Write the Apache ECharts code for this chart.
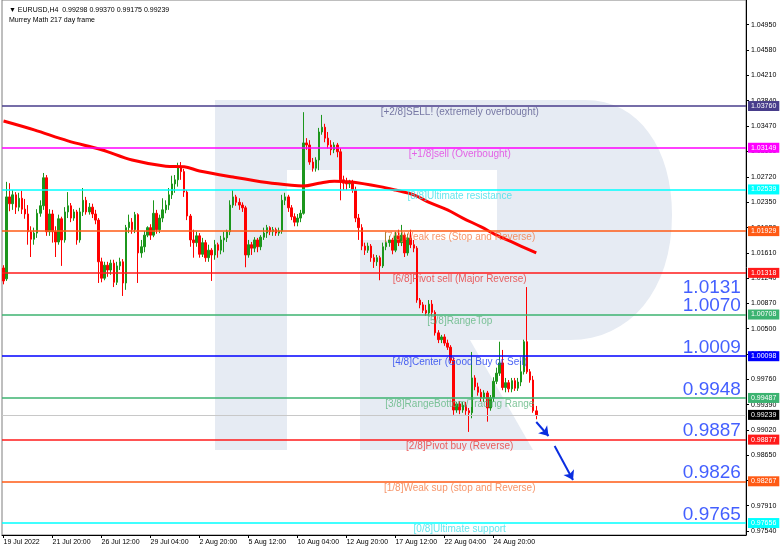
<!DOCTYPE html>
<html>
<head>
<meta charset="utf-8">
<script src="https://cdn.jsdelivr.net/npm/echarts@6.0.0/dist/echarts.min.js"></script>
<style>
html,body{margin:0;padding:0;background:#fff;}
#chart{width:782px;height:550px;}
</style>
</head>
<body>
<div id="chart"></div>
<script>
// ---- EURUSD H4 data ----
const symbolName = 'EURUSD,H4';
const indicatorName = 'Murrey Math 217 day frame';

const tradingDays = ['19 Jul','20 Jul','21 Jul','22 Jul','25 Jul','26 Jul','27 Jul','28 Jul','29 Jul',
  '1 Aug','2 Aug','3 Aug','4 Aug','5 Aug','8 Aug','9 Aug','10 Aug','11 Aug','12 Aug',
  '15 Aug','16 Aug','17 Aug','18 Aug','19 Aug','22 Aug','23 Aug','24 Aug','25 Aug','26 Aug','29 Aug'];
const barHours = ['00:00','04:00','08:00','12:00','16:00','20:00'];
const firstBar = '19 Jul 04:00';

// [open, close, low, high]
const ohlc = [
[1.0139,1.0120,1.0115,1.0143],[1.0123,1.0243,1.0120,1.0265],[1.0243,1.0233,1.0222,1.0263],[1.0233,1.0246,1.0224,1.0253],
[1.0246,1.0228,1.0218,1.0250],[1.0228,1.0241,1.0222,1.0249],[1.0241,1.0225,1.0218,1.0252],[1.0225,1.0218,1.0211,1.0240],
[1.0218,1.0192,1.0173,1.0231],[1.0192,1.0181,1.0155,1.0200],[1.0181,1.0190,1.0173,1.0198],[1.0190,1.0219,1.0183,1.0225],
[1.0219,1.0230,1.0214,1.0238],[1.0230,1.0271,1.0224,1.0278],[1.0271,1.0192,1.0186,1.0275],[1.0192,1.0218,1.0186,1.0225],
[1.0218,1.0192,1.0176,1.0224],[1.0192,1.0177,1.0155,1.0200],[1.0177,1.0211,1.0173,1.0217],[1.0211,1.0180,1.0142,1.0214],
[1.0180,1.0221,1.0176,1.0228],[1.0221,1.0230,1.0212,1.0250],[1.0230,1.0212,1.0206,1.0234],[1.0212,1.0221,1.0208,1.0225],
[1.0221,1.0180,1.0173,1.0224],[1.0180,1.0221,1.0176,1.0227],[1.0221,1.0238,1.0215,1.0256],[1.0238,1.0221,1.0217,1.0243],
[1.0221,1.0228,1.0217,1.0234],[1.0228,1.0218,1.0212,1.0233],[1.0218,1.0209,1.0203,1.0224],[1.0209,1.0148,1.0117,1.0212],
[1.0148,1.0124,1.0118,1.0154],[1.0124,1.0143,1.0121,1.0148],[1.0143,1.0136,1.0126,1.0148],[1.0136,1.0146,1.0129,1.0151],
[1.0146,1.0118,1.0111,1.0151],[1.0118,1.0142,1.0114,1.0148],[1.0142,1.0148,1.0136,1.0154],[1.0148,1.0117,1.0098,1.0152],
[1.0117,1.0198,1.0107,1.0202],[1.0198,1.0206,1.0190,1.0217],[1.0206,1.0195,1.0189,1.0212],[1.0195,1.0217,1.0190,1.0221],
[1.0217,1.0161,1.0117,1.0219],[1.0161,1.0170,1.0154,1.0180],[1.0170,1.0187,1.0162,1.0193],[1.0187,1.0198,1.0184,1.0200],
[1.0198,1.0187,1.0180,1.0203],[1.0187,1.0219,1.0184,1.0238],[1.0219,1.0195,1.0189,1.0224],[1.0195,1.0212,1.0190,1.0217],
[1.0212,1.0224,1.0206,1.0241],[1.0224,1.0231,1.0219,1.0238],[1.0231,1.0246,1.0224,1.0256],[1.0246,1.0262,1.0240,1.0274],
[1.0262,1.0268,1.0249,1.0275],[1.0268,1.0287,1.0258,1.0293],[1.0287,1.0280,1.0268,1.0294],[1.0280,1.0250,1.0243,1.0284],
[1.0250,1.0215,1.0209,1.0253],[1.0215,1.0180,1.0170,1.0218],[1.0180,1.0176,1.0154,1.0195],[1.0176,1.0186,1.0170,1.0192],
[1.0186,1.0159,1.0154,1.0190],[1.0159,1.0176,1.0155,1.0183],[1.0176,1.0154,1.0148,1.0180],[1.0154,1.0165,1.0148,1.0173],
[1.0165,1.0158,1.0120,1.0168],[1.0158,1.0173,1.0151,1.0180],[1.0173,1.0165,1.0154,1.0176],[1.0165,1.0180,1.0159,1.0186],
[1.0180,1.0183,1.0162,1.0192],[1.0183,1.0192,1.0177,1.0195],[1.0192,1.0231,1.0187,1.0238],[1.0231,1.0243,1.0227,1.0253],
[1.0243,1.0235,1.0230,1.0246],[1.0235,1.0231,1.0224,1.0241],[1.0231,1.0227,1.0221,1.0235],[1.0227,1.0158,1.0140,1.0230],
[1.0158,1.0173,1.0154,1.0180],[1.0173,1.0168,1.0158,1.0177],[1.0168,1.0180,1.0162,1.0184],[1.0180,1.0170,1.0162,1.0183],
[1.0170,1.0184,1.0165,1.0187],[1.0184,1.0190,1.0180,1.0198],[1.0190,1.0198,1.0183,1.0202],[1.0198,1.0192,1.0187,1.0200],
[1.0192,1.0195,1.0186,1.0199],[1.0195,1.0190,1.0186,1.0198],[1.0190,1.0193,1.0186,1.0198],[1.0193,1.0238,1.0189,1.0246],
[1.0238,1.0243,1.0231,1.0249],[1.0243,1.0227,1.0221,1.0246],[1.0227,1.0214,1.0209,1.0231],[1.0214,1.0206,1.0200,1.0219],
[1.0206,1.0212,1.0200,1.0218],[1.0212,1.0219,1.0206,1.0224],[1.0219,1.0322,1.0217,1.0367],[1.0322,1.0319,1.0312,1.0329],
[1.0319,1.0294,1.0290,1.0326],[1.0294,1.0285,1.0280,1.0300],[1.0285,1.0297,1.0280,1.0301],[1.0297,1.0338,1.0282,1.0344],
[1.0338,1.0345,1.0334,1.0363],[1.0345,1.0329,1.0323,1.0350],[1.0329,1.0319,1.0314,1.0338],[1.0319,1.0312,1.0304,1.0326],
[1.0312,1.0319,1.0307,1.0323],[1.0319,1.0309,1.0301,1.0322],[1.0309,1.0268,1.0238,1.0314],[1.0268,1.0263,1.0253,1.0274],
[1.0263,1.0262,1.0253,1.0271],[1.0262,1.0263,1.0256,1.0268],[1.0263,1.0253,1.0249,1.0268],[1.0253,1.0212,1.0206,1.0258],
[1.0212,1.0198,1.0180,1.0218],[1.0198,1.0171,1.0165,1.0203],[1.0171,1.0165,1.0158,1.0176],[1.0165,1.0171,1.0161,1.0176],
[1.0171,1.0154,1.0148,1.0174],[1.0154,1.0148,1.0139,1.0159],[1.0148,1.0154,1.0142,1.0158],[1.0154,1.0142,1.0121,1.0157],
[1.0142,1.0170,1.0139,1.0176],[1.0170,1.0176,1.0165,1.0192],[1.0176,1.0180,1.0170,1.0186],[1.0180,1.0165,1.0159,1.0183],
[1.0165,1.0186,1.0162,1.0192],[1.0186,1.0176,1.0171,1.0195],[1.0176,1.0187,1.0171,1.0202],[1.0187,1.0161,1.0155,1.0190],
[1.0161,1.0183,1.0157,1.0189],[1.0183,1.0173,1.0168,1.0195],[1.0173,1.0168,1.0162,1.0180],[1.0168,1.0092,1.0088,1.0171],
[1.0092,1.0085,1.0080,1.0095],[1.0085,1.0077,1.0073,1.0089],[1.0077,1.0073,1.0069,1.0085],[1.0073,1.0086,1.0069,1.0092],
[1.0086,1.0074,1.0069,1.0092],[1.0074,1.0044,1.0040,1.0077],[1.0044,1.0034,1.0029,1.0048],[1.0034,1.0038,1.0029,1.0041],
[1.0038,1.0029,1.0025,1.0042],[1.0029,1.0023,1.0019,1.0034],[1.0023,1.0004,1.0000,1.0026],[1.0004,0.9931,0.9924,1.0008],
[0.9931,0.9940,0.9927,0.9943],[0.9940,0.9931,0.9925,0.9944],[0.9931,0.9938,0.9927,0.9943],[0.9938,0.9930,0.9924,0.9943],
[0.9930,0.9927,0.9899,0.9934],[0.9927,0.9978,0.9919,1.0016],[0.9978,0.9965,0.9960,0.9982],[0.9965,0.9957,0.9952,0.9971],
[0.9957,0.9949,0.9943,0.9962],[0.9949,0.9956,0.9943,0.9960],[0.9956,0.9934,0.9914,0.9959],[0.9934,0.9949,0.9930,0.9953],
[0.9949,0.9973,0.9943,0.9979],[0.9973,0.9985,0.9969,0.9993],[0.9985,1.0000,0.9981,1.0031],[1.0000,0.9964,0.9960,1.0019],
[0.9964,0.9971,0.9957,0.9978],[0.9971,0.9962,0.9957,0.9975],[0.9962,0.9974,0.9957,0.9978],[0.9974,0.9963,0.9959,0.9978],
[0.9963,0.9972,0.9959,0.9978],[0.9972,0.9987,0.9966,1.0003],[0.9987,1.0031,0.9983,1.0034],[1.0031,0.9987,0.9984,1.0111],
[0.9987,0.9975,0.9971,0.9991],[0.9975,0.9930,0.9927,0.9981],[0.99298,0.99239,0.99175,0.99370]
];

// moving average readings: [bar index, value]
const maPoints = [[0,1.0354],[10,1.0341],[21,1.0325],[32,1.0312],[42,1.0297],[53,1.0288],[59,1.0287],[64,1.0281],
  [75,1.0272],[86,1.0264],[94,1.0260],[98,1.0259],[103,1.0263],[108,1.0266],[113,1.0265],[123,1.0258],[128,1.0253],
  [134,1.0246],[139,1.0235],[145,1.0224],[150,1.0212],[156,1.0199],[161,1.0187],[166,1.0177],[174,1.0161]];

// Murrey Math levels, +2/8 down to 0/8
const murreyLevels = [1.03760,1.03149,1.02539,1.01929,1.01318,1.00708,1.00098,0.99487,0.98877,0.98267,0.97656];
const murreyNotes = ['[+2/8]SELL! (extremely overbought)','[+1/8]sell (Overbought)','[8/8]Ultimate resistance',
  '[7/8]Weak res (Stop and Reverse)','[6/8]Pivot sell (Major Reverse)','[5/8]RangeTop','[4/8]Center (Good Buy or Sell)',
  '[3/8]RangeBottom/Trading Range','[2/8]Pivot buy (Reverse)','[1/8]Weak sup (stop and Reverse)','[0/8]Ultimate support'];
const keyLevelTexts = ['1.0131','1.0070','1.0009','0.9948','0.9887','0.9826','0.9765'];

const yTickValues = [1.0495,1.0458,1.0421,1.0384,1.0347,1.0310,1.0272,1.0235,1.0198,1.0161,1.0124,1.0087,1.0050,
  1.0013,0.9976,0.9939,0.9902,0.9865,0.9828,0.9791,0.9754];

// projected move arrows: [[bar, price], [bar, price]]
const arrowSegments = [
  [[174.3, 0.99135], [177.8, 0.98930]],
  [[180.2, 0.98784], [185.7, 0.98286]]
];

// ---- styling ----
const levelLineColors = ['#483d8b','#ff00ff','#00ffff','#ff5a14','#ff1a1a','#3cb371','#0000ff','#3cb371','#ff1a1a','#ff5a14','#00ffff'];
const levelTextColors = ['#5a5a90','#e23ee2','#3ee0e8','#f47a45','#e8393a','#5fb67f','#1e3cf0','#5fb67f','#e8393a','#f47a45','#3ee0e8'];
// big level numbers sit above their line, except the first one which hangs below it
const keyLabelBelow = [true, false, false, false, false, false, false];
const UP = '#1c961c', DOWN = '#ff0000';
const SLOTS = 243;          // bar slots across the plot (includes right-side shift)
const NOTE_BAR = 149;       // bar under which the level notes are centred
const KEY_BAR = 241;        // bar at which the big level numbers end
const MARK_FILL = '#e6ebf3';

// background logo outline (pixel space)
function bezierPts(p0, p1, p2, p3, n) {
  const out = [];
  for (let k = 1; k <= n; k++) {
    const t = k / n, u = 1 - t;
    out.push([
      u*u*u*p0[0] + 3*u*u*t*p1[0] + 3*u*t*t*p2[0] + t*t*t*p3[0],
      u*u*u*p0[1] + 3*u*u*t*p1[1] + 3*u*t*t*p2[1] + t*t*t*p3[1]
    ]);
  }
  return out;
}
const bowl = [[287,100],[585,100]]
  .concat(bezierPts([585,100],[640,100],[672,150],[672,215],16))
  .concat(bezierPts([672,215],[672,290],[630,340],[570,340],16))
  .concat([[360,340],[360,240],[497,240],[497,170],[287,170]]);

// build category labels
const categories = [];
let started = false;
for (const d of tradingDays) {
  for (const h of barHours) {
    const s = d + ' ' + h;
    if (s === firstBar) started = true;
    if (started && categories.length < ohlc.length) categories.push(s);
  }
}
while (categories.length < SLOTS) categories.push('');

const last = ohlc[ohlc.length - 1];
const fmt5 = v => v.toFixed(5);

const chart = echarts.init(document.getElementById('chart'));

const tickFilter = (idx, val) => idx % 16 === 0 && val !== '';

const option = {
  animation: false,
  backgroundColor: '#ffffff',
  textStyle: { fontFamily: '"Liberation Sans", Arial, sans-serif' },
  title: {
    left: 4, top: 2,
    text: '\u25BC ' + symbolName + '  ' + fmt5(last[0]) + ' ' + fmt5(last[3]) + ' ' + fmt5(last[2]) + ' ' + fmt5(last[1]),
    subtext: indicatorName,
    itemGap: 3,
    textStyle: { fontSize: 7, fontWeight: 'normal', color: '#000' },
    subtextStyle: { fontSize: 7, color: '#000' }
  },
  graphic: [
    { type: 'rect', z: -10, silent: true, shape: { x: 215, y: 100, width: 72, height: 350 }, style: { fill: MARK_FILL } },
    { type: 'polygon', z: -10, silent: true, shape: { points: bowl }, style: { fill: MARK_FILL } },
    { type: 'polygon', z: -10, silent: true, shape: { points: [[360,340],[470,340],[533,450],[360,450]] }, style: { fill: MARK_FILL } }
  ],
  grid: { left: 2, right: 36, top: 0, bottom: 15, show: true, borderColor: '#7f7f7f', borderWidth: 1 },
  xAxis: {
    type: 'category', data: categories, boundaryGap: true,
    axisLine: { show: true, lineStyle: { color: '#000', width: 1 } },
    axisTick: { show: true, alignWithLabel: true, interval: tickFilter, length: 3, lineStyle: { color: '#000' } },
    axisLabel: {
      interval: tickFilter, align: 'left', margin: 4, fontSize: 7, color: '#000',
      formatter: (v, i) => i === 0 ? v.split(' ').slice(0, 2).join(' ') + ' 2022' : v
    },
    splitLine: { show: false }
  },
  yAxis: {
    type: 'value', position: 'right', min: 0.97481, max: 1.05312,
    axisLine: { show: true, lineStyle: { color: '#000', width: 1 } },
    axisTick: { show: true, customValues: yTickValues, length: 3, lineStyle: { color: '#000' } },
    axisLabel: { customValues: yTickValues, formatter: v => v.toFixed(5), fontSize: 7, color: '#000', margin: 5 },
    splitLine: { show: false }
  },
  series: [
    {
      type: 'line', name: 'levels', data: [], silent: true, z: 1,
      markLine: {
        symbol: 'none', silent: true, animation: false, precision: 5,
        data: murreyLevels.map((v, i) => ({
          yAxis: v,
          lineStyle: { color: levelLineColors[i], width: 1.5, type: 'solid' },
          label: {
            show: true, position: 'end', distance: 2, formatter: p => fmt5(p.value),
            color: '#fff', backgroundColor: levelLineColors[i], padding: [2, 3, 1, 3], fontSize: 7
          }
        })).concat([{
          yAxis: last[1],
          lineStyle: { color: '#c8c8c8', width: 1, type: 'solid' },
          label: {
            show: true, position: 'end', distance: 2, formatter: p => fmt5(p.value),
            color: '#fff', backgroundColor: '#000', padding: [2, 3, 1, 3], fontSize: 7
          }
        }])
      }
    },
    {
      type: 'candlestick', name: symbolName, data: ohlc, barWidth: 2, z: 3,
      itemStyle: { color: UP, color0: DOWN, borderColor: UP, borderColor0: DOWN, borderWidth: 1 }
    },
    {
      type: 'line', name: 'MA', data: maPoints, smooth: 0.35, showSymbol: false, z: 4,
      lineStyle: { color: '#ff0000', width: 3 }
    },
    {
      type: 'scatter', name: 'notes', symbolSize: 1, z: 5, silent: true,
      itemStyle: { color: 'rgba(0,0,0,0)' },
      data: murreyNotes.map((t, i) => ({
        name: t, value: [NOTE_BAR, murreyLevels[i]],
        label: { color: levelTextColors[i] }
      })),
      label: { show: true, position: 'bottom', distance: 1, formatter: '{b}', fontSize: 10 }
    },
    {
      type: 'scatter', name: 'keys', symbolSize: 1, z: 5, silent: true,
      itemStyle: { color: 'rgba(0,0,0,0)' },
      data: keyLevelTexts.map((t, i) => ({
        name: t, value: [KEY_BAR, Number(t)],
        label: keyLabelBelow[i]
          ? { verticalAlign: 'top', offset: [0, 5] }
          : { verticalAlign: 'bottom', offset: [0, 1] }
      })),
      label: { show: true, position: [0, 0], align: 'right',
        formatter: '{b}', fontSize: 19, color: '#1437ff' }
    },
    {
      type: 'line', name: 'arrows', data: [], silent: true, z: 6,
      markLine: {
        symbol: ['none', 'arrow'], symbolSize: 9, silent: true, animation: false, precision: 5,
        lineStyle: { color: '#0a2de0', width: 2, type: 'solid' },
        label: { show: false },
        data: arrowSegments.map(s => [{ coord: s[0] }, { coord: s[1] }])
      }
    }
  ]
};
chart.setOption(option);
</script>
</body>
</html>
